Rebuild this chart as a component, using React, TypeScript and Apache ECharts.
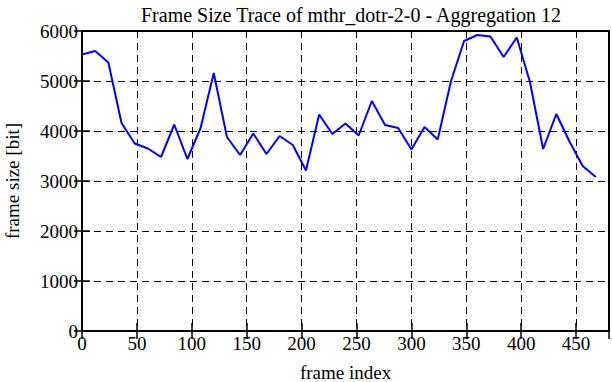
import React, { useEffect, useRef } from "react";
import * as echarts from "echarts";

const frameIndex: number[] = [
  0, 12, 24, 36, 48, 60, 72, 84, 96, 108, 120, 132, 144, 156, 168, 180, 192, 204, 216, 228,
  240, 252, 264, 276, 288, 300, 312, 324, 336, 348, 360, 372, 384, 396, 408, 420, 432, 444, 456, 468,
];
const frameSize: number[] = [
  5530, 5600, 5370, 4160, 3750, 3650, 3480, 4130, 3440, 4060, 5160, 3880, 3520, 3950, 3540, 3900, 3720, 3210, 4330, 3940,
  4150, 3910, 4600, 4120, 4060, 3630, 4080, 3830, 4990, 5800, 5920, 5890, 5480, 5870, 4980, 3640, 4340, 3790, 3300, 3080,
];
const titleText = "Frame Size Trace of mthr_dotr-2-0 - Aggregation 12";
const xName = "frame index";
const yName = "frame size [bit]";

const FONT = "'Liberation Serif', 'DejaVu Serif', serif";
const FS = 19;

export default function App() {
  const ref = useRef<HTMLDivElement>(null);
  useEffect(() => {
    if (!ref.current) return;
    const chart = echarts.init(ref.current, undefined, { renderer: "svg" });
    const data = frameIndex.map((x, i) => [x, frameSize[i]]);
    const gridLine = { show: true, lineStyle: { color: "#000", type: [7, 5] as any, width: 1 } };
    const tick = { show: true, inside: true, length: 8, lineStyle: { color: "#000", width: 1.5 } };
    chart.setOption({
      animation: false,
      backgroundColor: "#fff",
      textStyle: { fontFamily: FONT },
      title: {
        text: titleText,
        left: 346,
        textAlign: "center",
        top: 0,
        textStyle: { fontFamily: FONT, fontSize: 20, fontWeight: "normal", color: "#000" },
      },
      grid: {
        left: 82,
        right: 3,
        top: 31,
        bottom: 51,
        show: true,
        borderColor: "#000",
        borderWidth: 2,
        containLabel: false,
        outerBoundsMode: "none",
      },
      xAxis: [
        {
          type: "value",
          min: 0,
          max: 480,
          interval: 50,
          name: xName,
          nameLocation: "middle",
          nameGap: 31,
          nameTextStyle: { fontFamily: FONT, fontSize: FS, color: "#000", lineHeight: 20 },
          axisLine: { show: false },
          axisTick: tick,
          splitLine: gridLine,
          axisLabel: { showMaxLabel: false, fontFamily: FONT, fontSize: FS, color: "#000", margin: 3, formatter: (v: number) => String(v) },
        },
        {
          type: "value",
          position: "top",
          min: 0,
          max: 480,
          interval: 50,
          axisLine: { show: false },
          axisTick: tick,
          splitLine: { show: false },
          axisLabel: { show: false },
        },
      ],
      yAxis: [
        {
          type: "value",
          min: 0,
          max: 6000,
          interval: 1000,
          name: yName,
          nameLocation: "middle",
          nameGap: 60,
          nameTextStyle: { fontFamily: FONT, fontSize: FS, color: "#000" },
          axisLine: { show: false },
          axisTick: tick,
          splitLine: gridLine,
          axisLabel: { fontFamily: FONT, fontSize: FS, color: "#000", margin: 4, formatter: (v: number) => String(v) },
        },
        {
          type: "value",
          position: "right",
          min: 0,
          max: 6000,
          interval: 1000,
          axisLine: { show: false },
          axisTick: tick,
          splitLine: { show: false },
          axisLabel: { show: false },
        },
      ],
      series: [
        {
          type: "line",
          data,
          showSymbol: false,
          symbol: "none",
          lineStyle: { color: "#0000ff", width: 2 },
          z: 3,
        },
      ],
    });
    return () => chart.dispose();
  }, []);
  return <div ref={ref} style={{ width: 612, height: 382, position: "fixed", left: 0, top: 0 }} />;
}
